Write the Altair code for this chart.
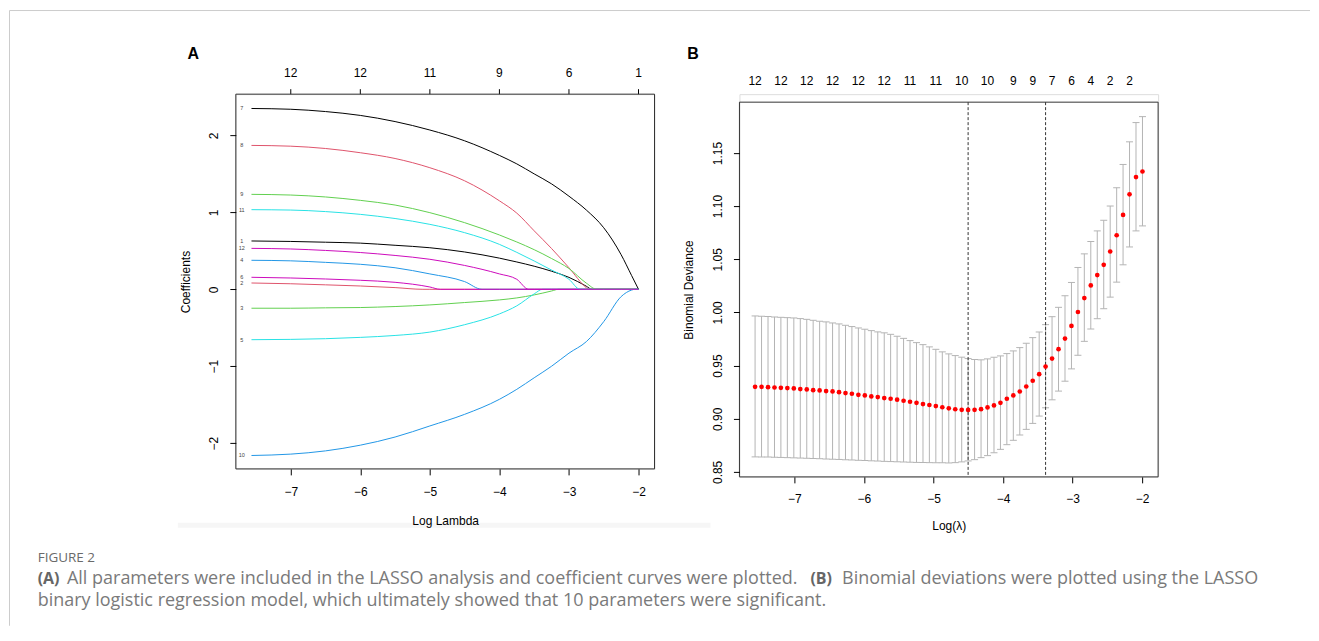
import altair as alt
import pandas as pd

# ---------------- Panel B data (cross-validation curve) ----------------
lam_b = [-7.565, -7.472, -7.379, -7.286, -7.194, -7.101, -7.008, -6.915, -6.822, -6.730,
         -6.637, -6.544, -6.451, -6.358, -6.265, -6.173, -6.080, -5.987, -5.894, -5.801,
         -5.708, -5.616, -5.523, -5.430, -5.337, -5.244, -5.151, -5.059, -4.966, -4.873,
         -4.780, -4.687, -4.594, -4.502, -4.409, -4.316, -4.223, -4.130, -4.037, -3.945,
         -3.852, -3.759, -3.666, -3.573, -3.480, -3.388, -3.295, -3.202, -3.109, -3.016,
         -2.923, -2.831, -2.738, -2.645, -2.552, -2.459, -2.366, -2.274, -2.181, -2.088,
         -1.995]
dev_mean = [0.9300, 0.9300, 0.9297, 0.9294, 0.9291, 0.9288, 0.9285, 0.9279, 0.9276, 0.9269,
            0.9266, 0.9260, 0.9257, 0.9250, 0.9241, 0.9235, 0.9225, 0.9219, 0.9210, 0.9204,
            0.9194, 0.9188, 0.9179, 0.9169, 0.9160, 0.9150, 0.9138, 0.9129, 0.9119, 0.9108,
            0.9098, 0.9089, 0.9084, 0.9083, 0.9084, 0.9090, 0.9106, 0.9125, 0.9150, 0.9188,
            0.9219, 0.9256, 0.9303, 0.9357, 0.9419, 0.9491, 0.9566, 0.9654, 0.9754, 0.9873,
            1.0004, 1.0135, 1.0254, 1.0351, 1.0448, 1.0573, 1.0726, 1.0917, 1.1111, 1.1273,
            1.1326]
dev_hi = [0.9967, 0.9964, 0.9961, 0.9958, 0.9954, 0.9951, 0.9948, 0.9942, 0.9935, 0.9926,
          0.9917, 0.9911, 0.9901, 0.9892, 0.9879, 0.9867, 0.9854, 0.9842, 0.9829, 0.9817,
          0.9808, 0.9794, 0.9776, 0.9756, 0.9735, 0.9716, 0.9697, 0.9676, 0.9653, 0.9629,
          0.9610, 0.9594, 0.9579, 0.9566, 0.9557, 0.9554, 0.9563, 0.9579, 0.9591, 0.9613,
          0.9638, 0.9669, 0.9710, 0.9763, 0.9816, 0.9885, 0.9960, 1.0048, 1.0157, 1.0282,
          1.0423, 1.0551, 1.0667, 1.0767, 1.0867, 1.1001, 1.1173, 1.1392, 1.1605, 1.1786,
          1.1842]
dev_lo = [0.8641, 0.8640, 0.8639, 0.8637, 0.8636, 0.8634, 0.8632, 0.8630, 0.8628, 0.8626,
          0.8624, 0.8621, 0.8619, 0.8617, 0.8614, 0.8612, 0.8609, 0.8607, 0.8604, 0.8602,
          0.8599, 0.8597, 0.8595, 0.8593, 0.8591, 0.8589, 0.8588, 0.8587, 0.8586, 0.8586,
          0.8584, 0.8587, 0.8594, 0.8603, 0.8615, 0.8634, 0.8653, 0.8681, 0.8712, 0.8756,
          0.8797, 0.8847, 0.8900, 0.8956, 0.9025, 0.9103, 0.9178, 0.9260, 0.9353, 0.9469,
          0.9597, 0.9728, 0.9844, 0.9941, 1.0035, 1.0144, 1.0285, 1.0448, 1.0616, 1.0767,
          1.0814]
nz_b_idx = [0, 4, 8, 12, 16, 20, 24, 28, 32, 36, 40, 43, 46, 49, 52, 55, 58]
nz_b_lab = ["12", "12", "12", "12", "12", "12", "11", "11", "10", "10", "9", "9", "7", "6", "4", "2", "2"]
lam_lines = [-4.502, -3.388]

# ---------------- Panel A data (coefficient paths) ----------------
grid_a = [-7.565, -7.0, -6.5, -6.0, -5.5, -5.0, -4.5, -4.0, -3.75, -3.5, -3.25, -3.0,
          -2.75, -2.5, -2.25, -2.1, -2.0]
coef_1 = [0.628, 0.622, 0.612, 0.600, 0.572, 0.540, 0.485, 0.405, 0.355, 0.300, 0.235, 0.155, 0.040, 0, 0, 0, 0]
coef_2 = [0.082, 0.072, 0.058, 0.043, 0.022, 0, 0, 0, 0, 0, 0, 0, 0, 0, 0, 0, 0]
coef_3 = [-0.246, -0.246, -0.241, -0.237, -0.224, -0.203, -0.172, -0.138, -0.112, -0.073, -0.022, 0, 0, 0, 0, 0, 0]
coef_4 = [0.377, 0.370, 0.350, 0.325, 0.280, 0.200, 0.100, 0, 0, 0, 0, 0, 0, 0, 0, 0, 0]
coef_5 = [-0.655, -0.651, -0.642, -0.625, -0.600, -0.556, -0.460, -0.320, -0.215, -0.060, 0, 0, 0, 0, 0, 0, 0]
coef_6 = [0.156, 0.147, 0.134, 0.117, 0.091, 0.030, 0, 0, 0, 0, 0, 0, 0, 0, 0, 0, 0]
coef_7 = [2.35, 2.34, 2.31, 2.26, 2.18, 2.07, 1.93, 1.74, 1.63, 1.50, 1.37, 1.21, 1.03, 0.80, 0.45, 0.18, 0.0]
coef_8 = [1.87, 1.86, 1.83, 1.775, 1.70, 1.58, 1.41, 1.15, 0.99, 0.76, 0.53, 0.28, 0.02, 0, 0, 0, 0]
coef_9 = [1.234, 1.225, 1.200, 1.156, 1.095, 0.996, 0.866, 0.706, 0.615, 0.515, 0.400, 0.270, 0.080, 0, 0, 0, 0]
coef_10 = [-2.16, -2.142, -2.10, -2.026, -1.92, -1.776, -1.625, -1.43, -1.30, -1.15, -1.00, -0.83, -0.68, -0.42, -0.095, -0.01, 0]
coef_11 = [1.035, 1.030, 1.010, 0.974, 0.920, 0.844, 0.736, 0.584, 0.480, 0.368, 0.250, 0.130, 0, 0, 0, 0, 0]
coef_12 = [0.532, 0.524, 0.505, 0.478, 0.440, 0.390, 0.310, 0.200, 0.130, 0, 0, 0, 0, 0, 0, 0, 0]
zero_at = [-2.67, -5.10, -3.15, -4.25, -3.38, -4.85, -2.0, -2.72, -2.60, -2.05, -2.84, -3.58]
top_a_x = [-7, -6, -5, -4, -3, -2]
top_a_lab = ["12", "12", "11", "9", "6", "1"]
path_colors = ["#000000", "#DF536B", "#61D04F", "#2297E6", "#28E2E5", "#CD0BBC"]

caption_fig = "FIGURE 2"
caption_a = "All parameters were included in the LASSO analysis and coefficient curves were plotted."
caption_b = "Binomial deviations were plotted using the LASSO"
caption_2 = "binary logistic regression model, which ultimately showed that 10 parameters were significant."

# ---------------- build tables ----------------
coefs = [coef_1, coef_2, coef_3, coef_4, coef_5, coef_6, coef_7, coef_8, coef_9, coef_10, coef_11, coef_12]
rows = []
for k, vals in enumerate(coefs, start=1):
    z = zero_at[k - 1]
    pts = [(gx, v) for gx, v in zip(grid_a, vals) if gx < z]
    pts.append((z, 0.0))
    pts += [(gx, 0.0) for gx in grid_a if gx > z]
    for px, py in pts:
        rows.append({"x": px, "y": py, "series": f"{k:02d}"})
df_a = pd.DataFrame(rows)
series_dom = [f"{k:02d}" for k in range(1, 13)]
series_rng = [path_colors[(k - 1) % 6] for k in range(1, 13)]
df_lab = pd.DataFrame({"y": [c[0] for c in coefs], "lab": [str(k) for k in range(1, 13)]})
df_top_a = pd.DataFrame({"x": top_a_x, "lab": top_a_lab})

df_b = pd.DataFrame({"x": lam_b, "y": dev_mean, "hi": dev_hi, "lo": dev_lo})
df_top_b = pd.DataFrame({"x": [lam_b[i] for i in nz_b_idx], "lab": nz_b_lab})
df_v = pd.DataFrame({"x": lam_lines})
one = pd.DataFrame({"k": [0]})

W, H = 419, 375
HB, OFF = 383, 8
FONT = "Liberation Sans"
CAP_FONT = "Open Sans"

xs = alt.Scale(domain=[-7.79, -1.77], nice=False, zero=False)
ya = alt.Scale(domain=[-2.334, 2.536], nice=False, zero=False)
yb = alt.Scale(domain=[0.8453, 1.1978], range=[HB, OFF], nice=False, zero=False)


def x_axis(title, ty, pad):
    return alt.Axis(values=[-7, -6, -5, -4, -3, -2], format="d", title=title, grid=False,
                    domain=False, tickSize=6, tickColor="black", labelFontSize=12,
                    labelColor="black", labelPadding=pad, labelFont=FONT, titleFont=FONT,
                    titleFontSize=12, titleFontWeight="normal", titleColor="black",
                    titleX=W / 2, titleY=ty, titleAlign="center", titleBaseline="middle",
                    labelFlush=False, zindex=1)


def y_axis(title, values, fmt, tx, ty, pad):
    return alt.Axis(values=values, format=fmt, title=title, grid=False, domain=False,
                    tickSize=6, tickColor="black", labelFontSize=12, labelColor="black",
                    labelAngle=270, labelAlign="center", labelBaseline="bottom",
                    labelPadding=pad, labelFont=FONT, titleFont=FONT, titleFontSize=12,
                    titleFontWeight="normal", titleColor="black", titleAngle=270,
                    titleX=tx, titleY=ty, titleAlign="center", titleBaseline="middle",
                    labelFlush=False, zindex=1)


# ---------------- Panel A ----------------
lines_a = alt.Chart(df_a).mark_line(strokeWidth=1, interpolate="monotone").encode(
    x=alt.X("x:Q", scale=xs, axis=x_axis("Log Lambda", 52, 11.5)),
    y=alt.Y("y:Q", scale=ya, axis=y_axis("Coefficients", [-2, -1, 0, 1, 2], "d", -50.3, H / 2, 9.2)),
    color=alt.Color("series:N", scale=alt.Scale(domain=series_dom, range=series_rng), legend=None),
)
labels_a = alt.Chart(df_lab).mark_text(fontSize=5.5, font=FONT, color="#444444", align="center",
                                        baseline="middle").encode(
    x=alt.value(6), y=alt.Y("y:Q", scale=ya), text="lab:N")
top_ticks_a = alt.Chart(df_top_a).mark_rule(color="black", strokeWidth=1).encode(
    x=alt.X("x:Q", scale=xs), y=alt.value(-5), y2=alt.value(0))
top_text_a = alt.Chart(df_top_a).mark_text(fontSize=12, font=FONT, color="black", align="center",
                                            baseline="alphabetic").encode(
    x=alt.X("x:Q", scale=xs), y=alt.value(-17), text="lab:N")
box_a = alt.Chart(one).mark_rect(fillOpacity=0, stroke="#333333", strokeWidth=1).encode(
    x=alt.value(0), x2=alt.value(W), y=alt.value(0), y2=alt.value(H))
letter_a = alt.Chart(one).mark_text(fontSize=16, font=FONT, fontWeight="bold", color="black",
                                    align="left", baseline="alphabetic").encode(
    x=alt.value(-48.3), y=alt.value(-34.7), text=alt.value("A"))
band_a = alt.Chart(one).mark_rect(color="#F6F6F6").encode(
    x=alt.value(177 - 235), x2=alt.value(710 - 235), y=alt.value(522 - 93), y2=alt.value(527 - 93))
frame_left = alt.Chart(one).mark_rule(color="#CCCCCC", strokeWidth=1).encode(
    x=alt.value(-226.5), y=alt.value(-83.7), y2=alt.value(532))
frame_top = alt.Chart(one).mark_rule(color="#CCCCCC", strokeWidth=1).encode(
    x=alt.value(-226.5), x2=alt.value(1075), y=alt.value(-83.7))


def cap_text(txt, x, y, size=18.0, bold=False, color="#7A7A7A"):
    return alt.Chart(one).mark_text(fontSize=size, font=CAP_FONT,
                                    fontWeight="bold" if bold else "normal",
                                    color=color, align="left", baseline="middle").encode(
        x=alt.value(x), y=alt.value(y), text=alt.value(txt))


captions = [
    cap_text(caption_fig, 36.7 - 235, 557.5 - 93, size=13.5, color="#6A6A6A"),
    cap_text("(A)", 36.7 - 235, 578 - 93, size=16, bold=True, color="#666666"),
    cap_text(caption_a, 66 - 235, 578 - 93),
    cap_text("(B)", 810 - 235, 578 - 93, size=16, bold=True, color="#666666"),
    cap_text(caption_b, 841.7 - 235, 578 - 93),
    cap_text(caption_2, 36.7 - 235, 600.5 - 93),
]

panel_a = alt.layer(band_a, lines_a, labels_a, top_ticks_a, top_text_a, box_a, letter_a,
                    frame_left, frame_top, *captions).properties(width=W, height=H)

# ---------------- Panel B ----------------
bars_b = alt.Chart(df_b).mark_rule(color="#B4B4B4", strokeWidth=1).encode(
    x=alt.X("x:Q", scale=xs), y=alt.Y("lo:Q", scale=yb), y2="hi:Q")
cap_hi = alt.Chart(df_b).mark_tick(orient="horizontal", size=7, thickness=1, color="#B4B4B4",
                                   opacity=1).encode(
    x=alt.X("x:Q", scale=xs), y=alt.Y("hi:Q", scale=yb))
cap_lo = alt.Chart(df_b).mark_tick(orient="horizontal", size=7, thickness=1, color="#B4B4B4",
                                   opacity=1).encode(
    x=alt.X("x:Q", scale=xs), y=alt.Y("lo:Q", scale=yb))
vlines_b = alt.Chart(df_v).mark_rule(color="#333333", strokeWidth=1, strokeDash=[3, 2]).encode(
    x=alt.X("x:Q", scale=xs), y=alt.value(OFF), y2=alt.value(HB))
pts_b = alt.Chart(df_b).mark_circle(color="#FF0000", size=22, opacity=1).encode(
    x=alt.X("x:Q", scale=xs, axis=x_axis("Log(λ)", 49, 11.1)),
    y=alt.Y("y:Q", scale=yb, axis=y_axis("Binomial Deviance", [0.85, 0.9, 0.95, 1.0, 1.05, 1.1, 1.15],
                                         ".2f", -50.6, OFF + H / 2, 8.5)))
top_text_b = alt.Chart(df_top_b).mark_text(fontSize=12, font=FONT, color="black", align="center",
                                            baseline="alphabetic").encode(
    x=alt.X("x:Q", scale=xs), y=alt.value(-9.4), text="lab:N")
box_b = alt.Chart(one).mark_rect(fillOpacity=0, stroke="#333333", strokeWidth=1).encode(
    x=alt.value(0), x2=alt.value(W), y=alt.value(OFF), y2=alt.value(HB))
letter_b = alt.Chart(one).mark_text(fontSize=16, font=FONT, fontWeight="bold", color="black",
                                    align="left", baseline="alphabetic").encode(
    x=alt.value(-52.3), y=alt.value(-34.7), text=alt.value("B"))

panel_b = alt.layer(bars_b, cap_hi, cap_lo, vlines_b, pts_b, top_text_b, box_b,
                    letter_b).properties(width=W, height=HB)

chart = alt.hconcat(panel_a, panel_b, spacing=85, bounds="flush").properties(
    padding={"left": 0, "top": 1, "right": 0, "bottom": 0}
).configure_view(stroke=None).configure(font=FONT)

chart.save("out.html", embed_options={"renderer": "svg", "actions": False})
